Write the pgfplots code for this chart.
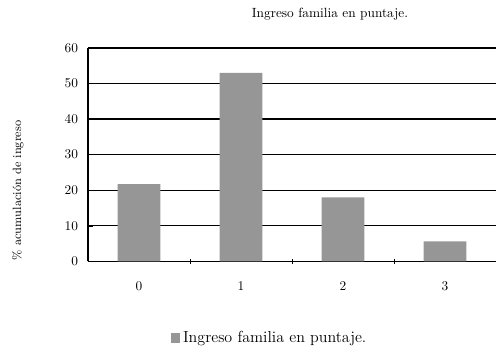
\documentclass[border=0pt]{standalone}
\usepackage{pgfplots}
\pgfplotsset{compat=1.18}
\definecolor{barfill}{RGB}{150,150,150}
\begin{document}
\begin{tikzpicture}
\useasboundingbox (-66pt,-63.75pt) rectangle (307.5pt,196pt);
\begin{axis}[
  scale only axis,
  width=306pt, height=160pt,
  xmin=-0.5, xmax=3.5,
  ymin=0, ymax=60,
  ytick={0,10,...,60},
  ymajorgrids,
  grid style={black, line width=1pt},
  axis x line*=bottom,
  axis y line*=left,
  axis line style={black, line width=1.2pt},
  xtick={0.5,1.5,2.5},
  xticklabels={},
  major tick length=4pt,
  tick style={black, line width=0.9pt},
  xtick pos=bottom,
  x tick style={yshift=-2pt},
  extra x ticks={0,1,2,3},
  extra x tick labels={0,1,2,3},
  extra x tick style={major tick length=0pt, tick label style={yshift=-12pt}},
  y tick label style={xshift=-4pt},
  ytick pos=left,
  every tick/.style={black},
  ylabel={\small\% acumulación de ingreso},
  ylabel style={at={(rel axis cs:-0.172,0.333)}, anchor=center},
  clip=false,
  legend style={draw=none, at={(rel axis cs:0.446,-0.36)}, anchor=center,
                font=\large, legend cell align=left},
  legend image code/.code={\fill[barfill] (0cm,-0.12cm) rectangle (0.25cm,0.13cm);},
]
\addplot[ybar, bar width=32pt, fill=barfill, draw=none]
  coordinates {(0,21.7) (1,53) (2,18) (3,5.6)};
\addlegendentry{Ingreso familia en puntaje.}
\node at (rel axis cs:0.593,1.16) {Ingreso familia en puntaje.};
\end{axis}
\end{tikzpicture}
\end{document}
